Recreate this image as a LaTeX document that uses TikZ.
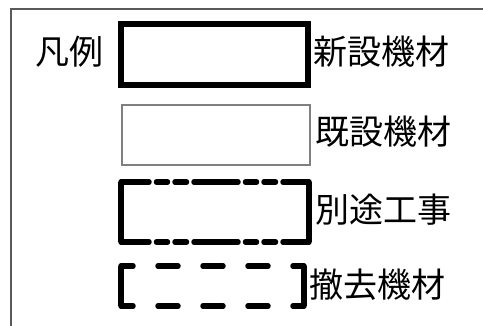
\documentclass[tikz,border=0pt]{standalone}
\usepackage{fontspec}
\usepackage{tikz}
\usetikzlibrary{positioning}
\newfontfamily\jpfont{Noto Sans CJK JP}
\definecolor{framegrey}{RGB}{90,90,90}
\definecolor{oldgrey}{RGB}{128,128,128}

\begin{document}
\begin{tikzpicture}[
  x=1pt, y=-1pt,
  font=\jpfont\fontsize{34}{40}\selectfont,
  box/.style={minimum width=187pt, minimum height=61pt, anchor=north west, inner sep=0pt, outer sep=0pt},
  newbox/.style={box, draw, line width=5.5pt},
  oldbox/.style={box, draw=oldgrey, line width=1.2pt, minimum width=188pt, minimum height=60pt},
  sepbox/.style={box, minimum width=188pt, minimum height=60pt},
  rembox/.style={box, minimum width=183pt, minimum height=40pt},
  thickline/.style={line width=5.5pt},
  seprun/.style={thickline, line cap=round, dash pattern=on 44pt off 7.5pt on 11pt off 7.5pt on 11.5pt off 7.5pt, dash phase=16pt},
  remrun/.style={thickline, line cap=round, dash pattern=on 20pt off 25pt, dash phase=8pt},
  legendtext/.style={anchor=west, inner sep=0pt}
]
\useasboundingbox (0,0) rectangle (483,326);
% outer frame
\draw[framegrey, line width=1.3pt] (11,326) -- (11,9) -- (483,9);

% legend title
\node[legendtext] (title) at (35,52) {凡例};

% new equipment
\node[newbox] (new) at (121,24) {};
\node[legendtext] (newlabel) at (313,52) {新設機材};

% existing equipment
\node[oldbox] (old) at (122,105) {};
\node[legendtext] (oldlabel) at (315,132) {既設機材};

% separate works
\node[sepbox] (sep) at (121,182) {};
\draw[thickline] (sep.north west) -- (sep.south west);
\draw[thickline] (sep.north east) -- (sep.south east);
\draw[seprun] (sep.north west) -- (sep.north east);
\draw[seprun] (sep.south west) -- (sep.south east);
\node[legendtext] (seplabel) at (315,210) {別途工事};

% removed equipment
\node[rembox] (rem) at (121,266) {};
\draw[thickline] (rem.north west) -- (rem.south west);
\draw[thickline] (rem.north east) -- (rem.south east);
\draw[remrun] (rem.north west) -- (rem.north east);
\draw[remrun] (rem.south west) -- (rem.south east);
\node[legendtext] (remlabel) at (309,285) {撤去機材};
\end{tikzpicture}
\end{document}
